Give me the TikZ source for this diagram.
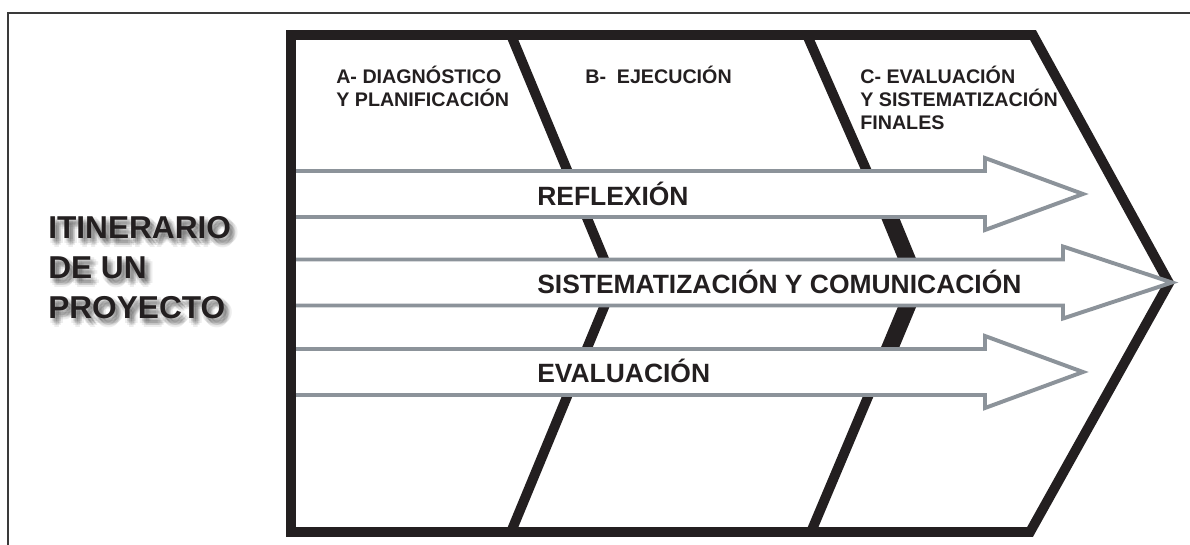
\documentclass[tikz,border=0pt]{standalone}
\usepackage{fontspec}
\setmainfont{Liberation Sans}
\definecolor{ink}{HTML}{231F20}
\definecolor{bandgray}{HTML}{8C939A}
\definecolor{edgegray}{HTML}{3A3A3A}

\begin{document}
\begin{tikzpicture}[
    x=0.025cm, y=-0.025cm,
    frame/.style={draw=ink, line width=7pt, line join=miter},
    flow/.style={draw=bandgray, line width=2.8pt, fill=white, line join=miter},
    phasetxt/.style={anchor=base west, inner sep=0pt, text=ink, font=\bfseries\fontsize{14}{16}\selectfont},
    flowtxt/.style={anchor=base west, inner sep=0pt, text=ink, font=\bfseries\fontsize{18.8}{22}\selectfont},
    headtxt/.style={anchor=base west, inner sep=0pt, text=ink, font=\bfseries\fontsize{22.5}{27}\selectfont}
]

\useasboundingbox (0,0) rectangle (1190,545);

\draw[draw=edgegray, line width=1pt] (8,545) -- (8,13) -- (1190,13);

% the three phases
\draw[frame] (291,35) -- (1033,35) -- (1169,283) -- (1030,532) -- (291,532) -- cycle;
\draw[frame] (511,35) -- (614,283) -- (511,532);
\draw[frame] (807,35) -- (916,283) -- (811,532);
\draw[frame, line width=12pt, line join=bevel] (889,215) -- (917,283) -- (889,350);

\node[phasetxt] (A1) at (336,83) {A- DIAGNÓSTICO};
\node[phasetxt] (A2) at (336,106) {Y PLANIFICACIÓN};
\node[phasetxt] (B1) at (585,83) {B-\hspace{0.55em}EJECUCIÓN};
\node[phasetxt] (C1) at (860,83) {C- EVALUACIÓN};
\node[phasetxt] (C2) at (860,106) {Y SISTEMATIZACIÓN};
\node[phasetxt] (C3) at (860,129) {FINALES};

% arrows across the phases
\foreach \yc/\xb/\xt in {194/985/1083, 282.5/1063/1172, 372/985/1083}
  \path[flow] (296,\yc+23) -- (\xb,\yc+23) -- (\xb,\yc+36) -- (\xt,\yc)
      -- (\xb,\yc-36) -- (\xb,\yc-23) -- (296,\yc-23);

\node[flowtxt] (refl) at (537,205) {REFLEXIÓN};
\node[flowtxt] (sist) at (537,293) {SISTEMATIZACIÓN Y COMUNICACIÓN};
\node[flowtxt] (eval) at (537,382) {EVALUACIÓN};

% title with soft shadow
\foreach \txt/\yb [count=\i] in {ITINERARIO/238, DE UN/278, PROYECTO/318}{
  \foreach \dx/\dy [count=\k] in {4/5, 2/3, 6/3, 2/7, 6/7, 4/1, 4/9, 0/5, 8/5, 3/4, 5/6}
    \node[headtxt, text=black, text opacity=0.07] (shade\i\k) at (48+\dx,\yb+\dy) {\txt};
  \node[headtxt] (head\i) at (48,\yb) {\txt};
}

\end{tikzpicture}
\end{document}
